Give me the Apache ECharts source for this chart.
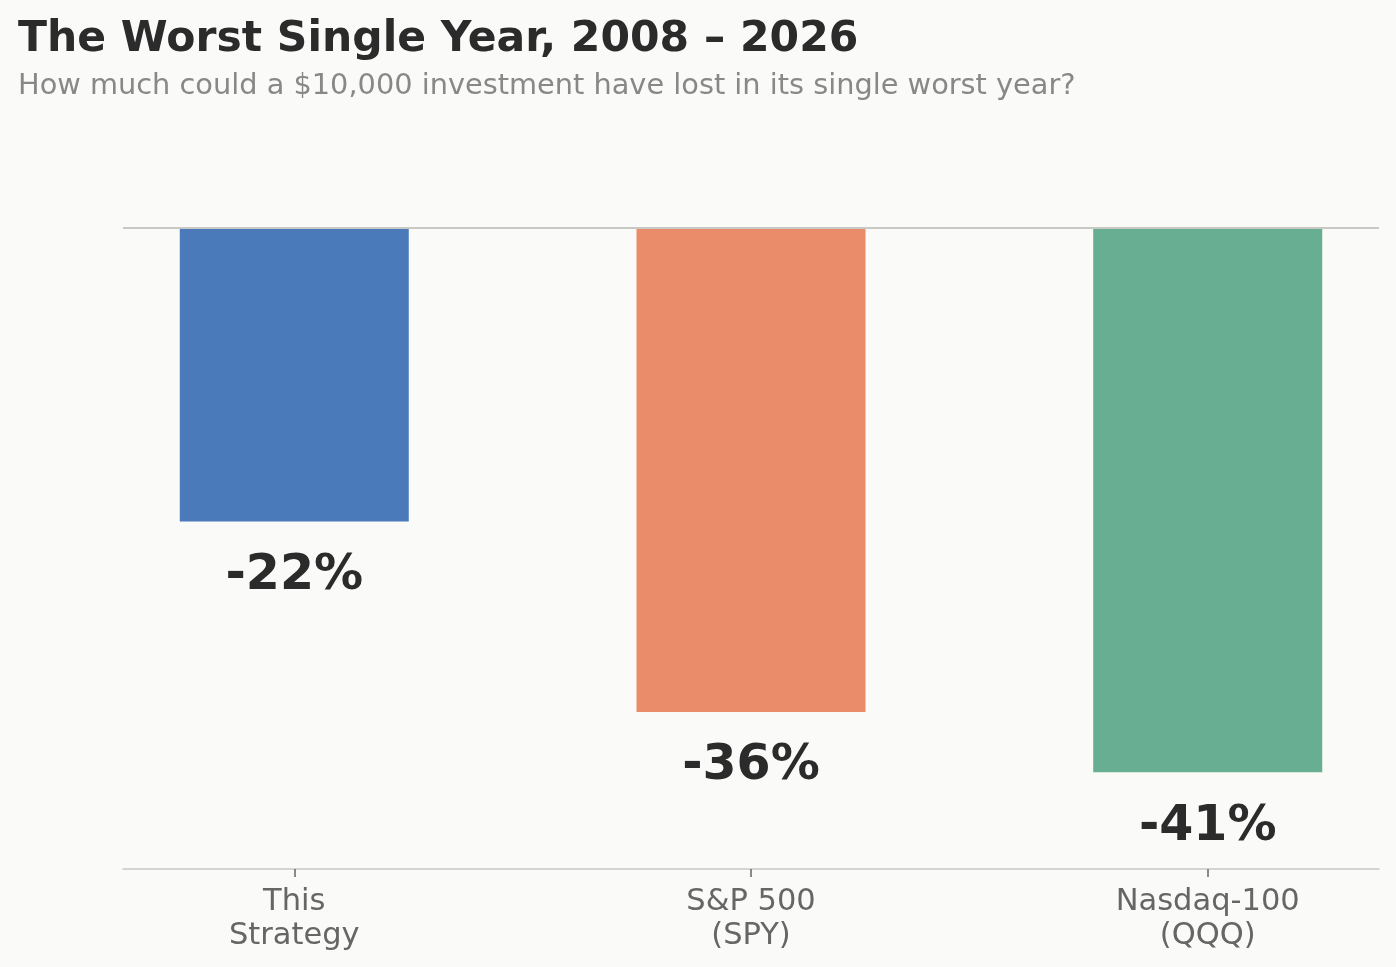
<!DOCTYPE html>
<html>
<head>
<meta charset="utf-8">
<script src="https://cdn.jsdelivr.net/npm/echarts@6/dist/echarts.min.js"></script>
<style>
  html, body { margin: 0; padding: 0; background: #FAFAF8; }
  #main { width: 1396px; height: 967px; }
</style>
</head>
<body>
<div id="main"></div>
<script>
// worst single calendar year, % change
const categories = ['This\nStrategy', 'S&P 500\n(SPY)', 'Nasdaq-100\n(QQQ)'];
const worstYear = [-21.9, -36.1, -40.6];
const barColors = ['#4A7ABA', '#EA8C6A', '#67AE93'];
const positions = [0, 1, 2];

const chart = echarts.init(document.getElementById('main'));

chart.setOption({
  backgroundColor: '#FAFAF8',
  animation: false,
  title: [{
    text: 'The Worst Single Year, 2008 – 2026',
    left: 18,
    top: 18,
    padding: 0,
    textStyle: { fontFamily: 'DejaVu Sans', fontSize: 42.5, fontWeight: 'bold', color: '#2B2B2B' }
  }, {
    text: 'How much could a $10,000 investment have lost in its single worst year?',
    left: 18,
    top: 72,
    padding: 0,
    textStyle: { fontFamily: 'DejaVu Sans', fontSize: 28.8, fontWeight: 'normal', color: '#888888' }
  }],
  grid: { left: 123, right: 17, top: 227.5, bottom: 98 },
  xAxis: {
    type: 'value',
    min: -0.375,
    max: 2.375,
    splitLine: { show: false },
    axisLine: { show: true, onZero: false, lineStyle: { color: '#C8C8C4', width: 1.5 } },
    axisTick: { show: true, length: 8, customValues: positions, lineStyle: { color: '#666', width: 1.5 } },
    axisLabel: {
      customValues: positions,
      formatter: v => categories[Math.round(v)],
      fontFamily: 'DejaVu Sans',
      fontSize: 30.5,
      lineHeight: 34,
      color: '#666666',
      margin: 16
    }
  },
  yAxis: {
    type: 'value',
    min: -47.8,
    max: 0,
    show: false
  },
  series: [{
    type: 'bar',
    barWidth: 229,
    data: worstYear.map((v, i) => ({
      value: [positions[i], v],
      itemStyle: { color: barColors[i] }
    })),
    label: {
      show: true,
      position: 'bottom',
      distance: 30,
      formatter: p => Math.round(p.value[1]) + '%',
      fontFamily: 'DejaVu Sans',
      fontSize: 49,
      fontWeight: 'bold',
      color: '#2B2B2B'
    },
    markLine: {
      silent: true,
      symbol: 'none',
      label: { show: false },
      lineStyle: { color: '#C8C8C4', width: 2, type: 'solid' },
      data: [{ yAxis: 0 }]
    }
  }]
});
</script>
</body>
</html>
